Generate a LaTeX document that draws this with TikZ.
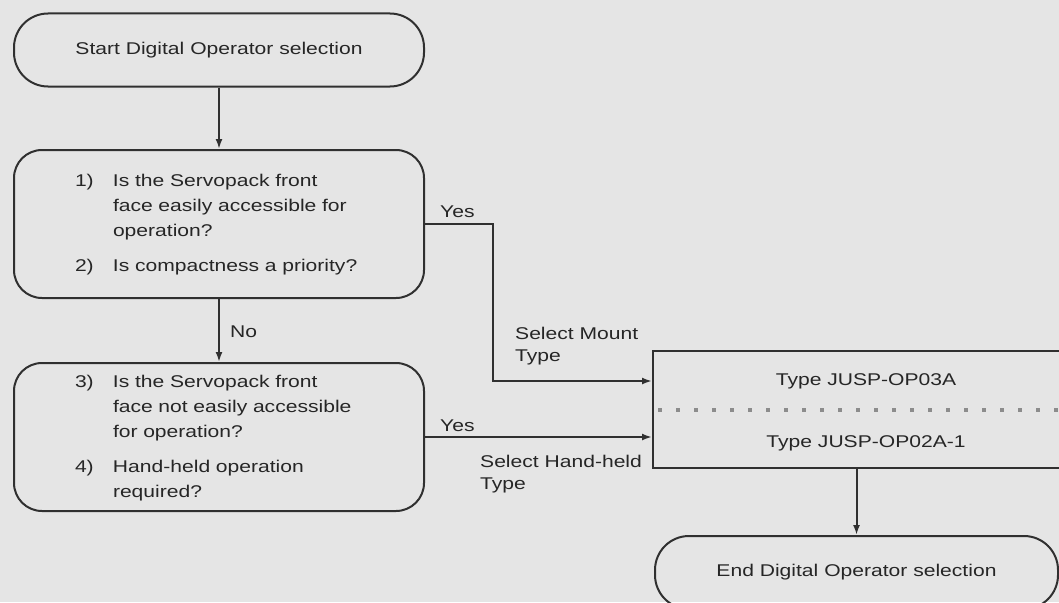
\documentclass[tikz,border=0pt]{standalone}
\usepackage{fontspec}
\setmainfont[FakeStretch=1.24]{Liberation Sans}
\usetikzlibrary{arrows.meta}
\definecolor{bg}{HTML}{E5E5E5}
\definecolor{ink}{HTML}{303030}
\definecolor{txt}{HTML}{262626}
\definecolor{dotc}{HTML}{8C8C8C}
\begin{document}
\begin{tikzpicture}[x=1pt,y=-1pt,
  every node/.style={text=txt, font=\fontsize{17}{25}\selectfont},
  box/.style={draw=ink, line width=2pt, minimum width=410pt, inner sep=0pt},
  term/.style={box, minimum height=73pt, rounded corners=34pt},
  ques/.style={box, minimum height=148pt, rounded corners=28pt, text width=288pt, align=left},
  arr/.style={draw=ink, line width=2pt, -{Latex[length=10pt,width=7pt]}},
  lbl/.style={anchor=west, inner sep=0pt, align=left, font=\fontsize{17}{22}\selectfont}]
\clip (0,0) rectangle (1059,602);
\fill[bg] (0,0) rectangle (1059,602);

\node[term] (start) at (219,50) {Start Digital Operator selection};
\node[ques] (q1) at (219,224) {\begin{tabular}{@{}p{38pt}@{}l@{}}
1) & Is the Servopack front\\
 & face easily accessible for\\
 & operation?\\[10pt]
2) & Is compactness a priority?
\end{tabular}};
\node[ques] (q2) at (219,437) {\begin{tabular}{@{}p{38pt}@{}l@{}}
3) & Is the Servopack front\\
 & face not easily accessible\\
 & for operation?\\[10pt]
4) & Hand-held operation\\
 & required?
\end{tabular}};

\node[draw=ink, line width=2pt, minimum width=440pt, minimum height=117pt, inner sep=0pt] (types) at (873,409.5) {};
\node (t1) at (866,381) {Type JUSP-OP03A};
\node (t2) at (866,443) {Type JUSP-OP02A-1};
\draw[dotc, line width=4pt, dash pattern=on 4pt off 14pt] ([xshift=6pt]types.west) -- (types.east);

\node[term, minimum width=403pt] (end) at (856.5,572.5) {End Digital Operator selection};

\draw[arr] (start) -- (q1);
\draw[arr] (q1) -- (q2);
\draw[arr] (q1.east) -- ++(68,0) |- (types.west |- t1);
\draw[arr] (q2.east) -- (q2.east -| types.west);
\draw[arr] (types.south -| end.north) -- (end.north);

\node[lbl] (y1) at (440,212) {Yes};
\node[lbl] (no) at (230,332) {No};
\node[lbl] (m) at (515,346) {Select Mount\\Type};
\node[lbl] (y2) at (440,426) {Yes};
\node[lbl] (h) at (480,474) {Select Hand-held\\Type};
\end{tikzpicture}
\end{document}
